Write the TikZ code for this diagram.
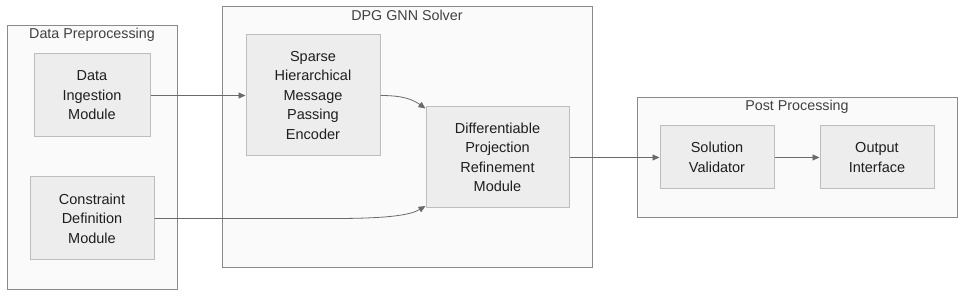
\documentclass[tikz,border=0pt]{standalone}
\usepackage{fontspec}
\setmainfont{Liberation Sans}
\usetikzlibrary{arrows.meta,calc}
\definecolor{clfill}{HTML}{FAFAFA}
\definecolor{cldraw}{HTML}{8A8A8A}
\definecolor{ndfill}{HTML}{EDEDED}
\definecolor{nddraw}{HTML}{BDBDBD}
\definecolor{txt}{HTML}{1E1E1E}
\definecolor{ttltxt}{HTML}{404040}
\definecolor{arr}{HTML}{6A6A6A}
\begin{document}
\begin{tikzpicture}[x=1pt,y=-1pt,
  cluster/.style={draw=cldraw, fill=clfill, line width=0.8pt, inner sep=0pt},
  box/.style={draw=nddraw, fill=ndfill, line width=1pt, align=center, text=txt,
    font=\fontsize{14.5}{19.5}\selectfont, inner sep=0pt},
  ttl/.style={text=ttltxt, font=\fontsize{14.3}{16}\selectfont, inner sep=0pt},
  conn/.style={draw=arr, line width=0.8pt, -{Triangle[length=7pt,width=6pt]}}]
\useasboundingbox (0,0) rectangle (964,296);
% clusters
\node[cluster, minimum width=170pt, minimum height=264pt] (c1) at (92,157) {};
\node[ttl] (t1) at (92,35) {Data Preprocessing};
\node[cluster, minimum width=370pt, minimum height=261pt] (c2) at (407,136.5) {};
\node[ttl] (t2) at (407,15.7) {DPG GNN Solver};
\node[cluster, minimum width=320pt, minimum height=120pt] (c3) at (797,157) {};
\node[ttl] (t3) at (797,106.7) {Post Processing};
% nodes
\node[box, minimum width=116pt, minimum height=83pt] (ingest) at (92,95.5) {Data\\Ingestion\\Module};
\node[box, minimum width=124pt, minimum height=83pt] (constr) at (92,218.5) {Constraint\\Definition\\Module};
\node[box, minimum width=134pt, minimum height=121pt] (sparse) at (313,95.5) {Sparse\\Hierarchical\\Message\\Passing\\Encoder};
\node[box, minimum width=143pt, minimum height=101pt] (diff) at (497.5,157.5) {Differentiable\\Projection\\Refinement\\Module};
\node[box, minimum width=114pt, minimum height=63pt] (valid) at (717,157.5) {Solution\\Validator};
\node[box, minimum width=114pt, minimum height=63pt] (out) at (877,157.5) {Output\\Interface};
% connector ends
\coordinate (d1) at ($(diff.north west)+(0,2)$);
\coordinate (d2) at ($(diff.south west)+(0,-2.5)$);
% connectors
\draw[conn] (ingest.east) -- (sparse.west |- ingest.east);
\draw[conn] (sparse.east) .. controls (402,95.5) and (412,99) .. (d1);
\draw[conn] (constr.east) -- (335,218.5) .. controls (395,218.5) and (412,214) .. (d2);
\draw[conn] (diff.east) -- (valid.west);
\draw[conn] (valid.east) -- (out.west);
\end{tikzpicture}
\end{document}
